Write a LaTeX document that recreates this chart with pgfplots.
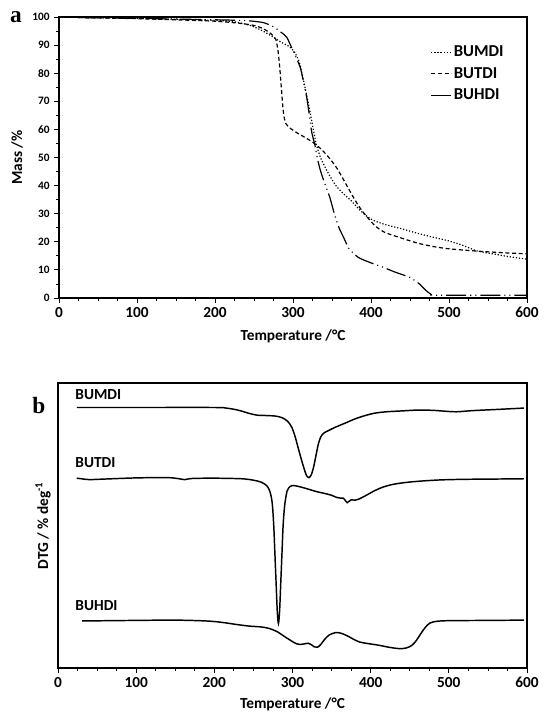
\documentclass[border=0pt]{standalone}
\usepackage{fontspec}
\setmainfont{Carlito}
\newfontfamily\serifb{Liberation Serif}
\usepackage{pgfplots}
\pgfplotsset{compat=1.18}

\pgfplotstableread{
T M
25 99.8
100 99.5
150 99.2
200 98.8
225 98.3
245 97.0
260 95.2
272 93.3
285 91.0
295 89.5
302 87.5
308 84.0
313 78.0
318 71.5
322 66.0
326 60.0
330 54.5
336 49.5
345 44.5
355 40.0
365 37.0
375 34.5
385 31.5
395 29.0
405 27.4
420 26.0
437 24.8
460 23.0
480 21.6
500 20.3
520 18.5
535 16.8
550 16.0
575 14.8
600 13.8
}\tgaMDI

\pgfplotstableread{
T M
25 99.8
100 99.4
150 99.0
200 98.5
230 97.8
250 97.0
262 95.8
272 94.0
278 92.0
281 87.5
283 82.0
285 75.0
287 68.0
288.5 64.5
291 62.0
296 60.5
305 58.8
315 57.2
326 55.3
336 53.0
346 50.0
356 46.3
366 41.5
376 36.5
386 32.0
396 28.5
406 25.5
418 23.3
437 21.5
460 19.5
480 18.3
500 17.5
535 16.7
570 16.1
600 15.7
}\tgaTDI

\pgfplotstableread{
T M
25 99.8
100 99.5
200 99.0
240 98.7
262 98.0
275 96.5
285 94.5
292 92.8
300 88.0
309 82.3
313 77.5
317.5 71.5
321 65.0
324 59.0
328 54.5
331 50.0
335 45.5
341 40.5
347 36.0
353 30.0
359 25.0
365 21.5
372 17.5
384 14.4
400 12.5
415 11.0
430 9.3
450 7.3
462 5.0
470 2.8
477 1.3
485 1.0
600 1.0
}\tgaHDI

\pgfplotstableread{
T v
24 91.4
100 91.4
200 91.4
215 91.2
230 90.5
245 89.3
255 88.7
265 88.6
278 88.4
287 87.8
294 86.5
299 84.5
303 81.5
307 77.5
311 73.5
315 69.8
318 67.5
321 66.8
324 67.8
327 70.5
330 74.5
333 78.5
336 81.0
340 82.4
346 83.3
355 84.5
368 86.0
380 87.4
392 88.5
405 89.4
420 89.9
440 90.2
460 90.5
480 90.4
495 90.1
510 89.9
530 90.3
560 90.7
596 91.2
}\dtgMDI

\pgfplotstableread{
T v
24 66.6
30 66.4
40 66.1
60 66.3
100 66.7
140 66.8
155 66.4
162 66.1
172 66.5
200 66.6
235 66.4
250 65.9
260 65.2
267 64.0
271 62.0
274 58.0
276 50.0
277.5 40.0
279 30.0
280.5 20.0
282 15.6
283.5 20.0
285 30.0
286.5 40.0
288 50.0
290 57.0
293 62.0
297 63.7
302 64.0
312 63.4
322 62.6
332 61.8
342 61.2
350 60.6
356 59.9
362 59.6
365 59.6
368 58.6
370 58.0
372 58.4
375 59.0
380 58.9
386 59.4
395 60.7
405 62.2
415 63.4
428 64.4
445 65.1
465 65.6
490 66.0
520 66.2
560 66.3
596 66.4
}\dtgTDI

\pgfplotstableread{
T v
31 16.5
100 16.7
150 16.8
190 16.5
210 16.0
230 15.2
245 14.7
260 14.4
270 13.9
280 12.8
290 11.0
298 9.6
305 8.5
311 8.3
316 8.5
320 8.7
324 8.2
328 7.4
332 7.3
336 8.2
341 10.0
347 11.6
355 12.4
362 12.2
370 11.3
378 10.1
386 9.1
396 8.6
410 8.0
425 7.2
437 6.8
445 7.0
452 7.8
458 9.5
464 12.0
470 14.3
476 15.8
485 16.4
500 16.6
550 16.7
596 16.8
}\dtgHDI

\pgfplotsset{
  common/.style={
    scale only axis,
    anchor=south west,
    xmin=0, xmax=600,
    xtick={0,100,...,600},
    minor x tick num=3,
    tick align=outside,
    xtick pos=left, ytick pos=left,
    major tick length=3.5pt, minor tick length=2.5pt,
    every tick/.style={black, line width=0.6pt},
    axis line style={line width=0.8pt},
    /pgf/number format/assume math mode=true,
    xticklabel style={font=\bfseries\fontsize{11.5}{13}\selectfont},
    label style={font=\bfseries\fontsize{11.5}{13}\selectfont},
    xlabel={Temperature /°C},
  }
}

\begin{document}
\begin{tikzpicture}
\useasboundingbox (0,0) rectangle (407.25pt,534pt);

\begin{axis}[common,
  at={(44.25pt,310.5pt)},
  width=351pt, height=210.75pt,
  ymin=0, ymax=100,
  ytick={0,10,...,100},
  minor y tick num=1,
  yticklabel style={font=\bfseries\fontsize{8.5}{10}\selectfont},
  ylabel={Mass /\%},
  xlabel style={at={(axis description cs:0.5,0)}, anchor=center, yshift=-29pt},
  ylabel style={at={(axis description cs:0,0.5)}, anchor=center, rotate=0, yshift=31.5pt},
  legend style={draw=none, fill=none, at={(0.785,0.915)}, anchor=north west,
    font=\bfseries\fontsize{12.5}{14}\selectfont, row sep=3.5pt,
    nodes={inner sep=1.5pt}},
  legend cell align=left,
  legend image code/.code={\draw[#1] (0pt,0pt) -- (15pt,0pt);},
]
\addplot[black, line width=0.9pt, smooth, tension=0.4, dash pattern=on 0.9pt off 1.4pt] table[x=T,y=M] {\tgaMDI};
\addlegendentry{BUMDI}
\addplot[black, line width=0.9pt, smooth, tension=0.4, dash pattern=on 3pt off 2pt] table[x=T,y=M] {\tgaTDI};
\addlegendentry{BUTDI}
\addplot[black, line width=0.9pt, smooth, tension=0.4, dash pattern=on 15pt off 3pt on 0.8pt off 3pt on 0.8pt off 3pt] table[x=T,y=M] {\tgaHDI};
\addlegendentry{BUHDI}
\end{axis}

\begin{axis}[common,
  at={(43.5pt,33pt)},
  width=351.75pt, height=213.75pt,
  ymin=0, ymax=100,
  ytick=\empty,
  ylabel={DTG / \% deg\textsuperscript{-1}},
  xlabel style={at={(axis description cs:0.5,0)}, anchor=center, yshift=-27pt},
  ylabel style={at={(axis description cs:0,0.5)}, anchor=center, yshift=11.25pt},
]
\addplot[black, line width=1.1pt, smooth, tension=0.5] table[x=T,y=v] {\dtgMDI};
\addplot[black, line width=1.1pt, smooth, tension=0.5] table[x=T,y=v] {\dtgTDI};
\addplot[black, line width=1.1pt, smooth, tension=0.5] table[x=T,y=v] {\dtgHDI};
\node[anchor=west, inner sep=0pt, font=\bfseries\fontsize{11.5}{13}\selectfont] at (axis cs:22,95.9) {BUMDI};
\node[anchor=west, inner sep=0pt, font=\bfseries\fontsize{11.5}{13}\selectfont] at (axis cs:22,71.9) {BUTDI};
\node[anchor=west, inner sep=0pt, font=\bfseries\fontsize{11.5}{13}\selectfont] at (axis cs:22,21.8) {BUHDI};
\end{axis}

\node[font=\serifb\bfseries\fontsize{17.5}{20}\selectfont, inner sep=0pt] at (11.9pt,521.5pt) {a};
\node[font=\serifb\bfseries\fontsize{17.5}{20}\selectfont, inner sep=0pt] at (29.1pt,229.7pt) {b};
\end{tikzpicture}
\end{document}
